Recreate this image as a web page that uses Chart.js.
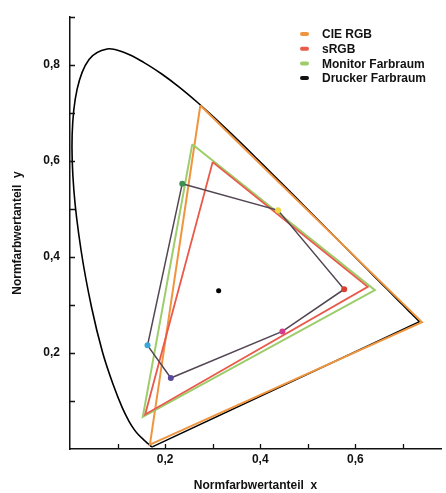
<!DOCTYPE html>
<html>
<head>
<meta charset="utf-8">
<script src="https://cdn.jsdelivr.net/npm/chart.js@4/dist/chart.umd.min.js"></script>
<style>
  html, body { margin: 0; padding: 0; background: #fff; }
  #wrap { width: 446px; height: 493px; }
</style>
</head>
<body>
<div id="wrap"><canvas id="cie"></canvas></div>
<script>
// Spektralfarbenzug (CIE 1931, 2°)
const locusX = [0.1741, 0.1733, 0.1714, 0.1689, 0.1644, 0.1566, 0.1440, 0.1355, 0.1241, 0.1096, 0.0913, 0.0687,
    0.0454, 0.0235, 0.0082, 0.0045, 0.0150, 0.0400, 0.0780, 0.1142, 0.1547, 0.1929, 0.2296, 0.2658, 0.3016,
    0.3373, 0.3731, 0.4087, 0.4441, 0.4788, 0.5125, 0.5448, 0.5752, 0.6029, 0.6270, 0.6482, 0.6658, 0.6915,
    0.7079, 0.7190, 0.7260, 0.7300, 0.7334, 0.7347];
const locusY = [0.0050, 0.0048, 0.0051, 0.0069, 0.0109, 0.0177, 0.0297, 0.0399, 0.0578, 0.0868, 0.1327, 0.2007,
    0.2950, 0.4127, 0.5384, 0.6548, 0.7502, 0.8120, 0.8338, 0.8262, 0.8059, 0.7816, 0.7543, 0.7243, 0.6923,
    0.6589, 0.6245, 0.5896, 0.5547, 0.5202, 0.4866, 0.4544, 0.4242, 0.3965, 0.3725, 0.3514, 0.3340, 0.3083,
    0.2920, 0.2809, 0.2740, 0.2700, 0.2666, 0.2653];

// Farbräume (Eckpunkte, geschlossen)
const cieRgbX = [0.274, 0.740, 0.168, 0.274];
const cieRgbY = [0.716, 0.2645, 0.009, 0.716];
const srgbX = [0.300, 0.626, 0.158, 0.300];
const srgbY = [0.598, 0.338, 0.072, 0.598];
const monitorX = [0.257, 0.641, 0.153, 0.257];
const monitorY = [0.635, 0.331, 0.067, 0.635];
const druckerX = [0.236, 0.4375, 0.5765, 0.4465, 0.212, 0.163, 0.236];
const druckerY = [0.553, 0.4975, 0.333, 0.245, 0.148, 0.216, 0.553];
const weissX = [0.3125];
const weissY = [0.330];

const legendLabels = ['CIE RGB', 'sRGB', 'Monitor Farbraum', 'Drucker Farbraum'];
const legendColors = ['#f0953f', '#e95a4b', '#9dcd6b', '#111111'];

const xTicks = [0.1, 0.2, 0.3, 0.4, 0.5, 0.6, 0.7];
const xTickLabels = ['', '0,2', '', '0,4', '', '0,6', ''];
const yTicks = [0.1, 0.2, 0.3, 0.4, 0.5, 0.6, 0.7, 0.8, 0.9];
const yTickLabels = ['', '0,2', '', '0,4', '', '0,6', '', '0,8', ''];

const FONT = '"Liberation Sans", Arial, sans-serif';

const pts = (xs, ys) => xs.map((x, i) => ({ x: x, y: ys[i] }));

// Ticks point inwards in the original
const innerTicks = {
    id: 'innerTicks',
    afterDraw(chart) {
        const { ctx, scales: { x, y } } = chart;
        ctx.save();
        ctx.strokeStyle = '#111';
        ctx.lineWidth = 1.3;
        ctx.beginPath();
        xTicks.forEach(v => {
            const px = Math.round(x.getPixelForValue(v)) + 0.5;
            ctx.moveTo(px, y.bottom);
            ctx.lineTo(px, y.bottom - 5);
        });
        yTicks.forEach(v => {
            const py = Math.round(y.getPixelForValue(v)) + 0.5;
            ctx.moveTo(x.left, py);
            ctx.lineTo(x.left + 5, py);
        });
        ctx.stroke();
        ctx.restore();
    }
};

const cornerLegend = {
    id: 'cornerLegend',
    afterDraw(chart) {
        const ctx = chart.ctx;
        ctx.save();
        ctx.font = 'bold 12px ' + FONT;
        ctx.textBaseline = 'middle';
        legendLabels.forEach((lab, i) => {
            const yy = 34 + i * 14.7;
            ctx.strokeStyle = legendColors[i];
            ctx.lineWidth = 4;
            ctx.lineCap = 'round';
            ctx.beginPath();
            ctx.moveTo(302, yy);
            ctx.lineTo(307, yy);
            ctx.stroke();
            ctx.fillStyle = '#111';
            ctx.fillText(lab, 322, yy + 1);
        });
        ctx.restore();
    }
};

new Chart(document.getElementById('cie'), {
    type: 'scatter',
    data: {
        datasets: [
            {
                label: 'Weißpunkt',
                data: pts(weissX, weissY),
                backgroundColor: '#000',
                pointRadius: 2.5,
                showLine: false,
                order: 0
            },
            {
                label: 'Drucker Farbraum',
                data: pts(druckerX, druckerY),
                showLine: true,
                borderColor: '#524652',
                borderWidth: 1.5,
                pointRadius: [3, 3, 3, 3, 3, 3, 0],
                pointBackgroundColor: ['#3f8f52', '#f2d640', '#d8402f', '#d23c8e', '#5a48a0', '#38a8d8', '#3f8f52'],
                pointBorderWidth: 0,
                order: 1
            },
            {
                label: 'sRGB',
                data: pts(srgbX, srgbY),
                showLine: true,
                borderColor: '#e95a4b',
                borderWidth: 1.8,
                pointRadius: 0,
                order: 2
            },
            {
                label: 'Monitor Farbraum',
                data: pts(monitorX, monitorY),
                showLine: true,
                borderColor: '#9dcd6b',
                borderWidth: 2,
                pointRadius: 0,
                order: 3
            },
            {
                label: 'CIE RGB',
                data: pts(cieRgbX, cieRgbY),
                showLine: true,
                borderColor: '#f0953f',
                borderWidth: 2,
                pointRadius: 0,
                order: 4
            },
            {
                label: 'Spektralfarbenzug',
                data: pts(locusX, locusY),
                showLine: true,
                borderColor: '#000',
                borderWidth: 1.6,
                tension: 0.35,
                pointRadius: 0,
                order: 5
            },
            {
                label: 'Purpurlinie',
                data: pts([locusX[locusX.length - 1], locusX[0]], [locusY[locusY.length - 1], locusY[0]]),
                showLine: true,
                borderColor: '#000',
                borderWidth: 1.6,
                pointRadius: 0,
                order: 6
            }
        ]
    },
    options: {
        responsive: true,
        maintainAspectRatio: false,
        animation: false,
        layout: { padding: { top: 12.5, right: 2, left: 0, bottom: 0 } },
        plugins: {
            legend: { display: false },
            tooltip: { enabled: false }
        },
        elements: { line: { fill: false } },
        scales: {
            x: {
                min: 0,
                max: 0.78,
                afterFit: s => { s.height = 44; },
                afterBuildTicks: s => { s.ticks = xTicks.map(v => ({ value: v })); },
                grid: { display: true, drawOnChartArea: false, drawTicks: false },
                border: { display: true, color: '#111', width: 1.5 },
                ticks: {
                    autoSkip: false,
                    maxRotation: 0,
                    padding: 3,
                    color: '#111',
                    font: { family: FONT, size: 12, weight: 'bold' },
                    callback: (v, i) => xTickLabels[i]
                },
                title: {
                    display: true,
                    text: 'Normfarbwertanteil  x',
                    color: '#111',
                    padding: { top: 0, bottom: 0 },
                    font: { family: FONT, size: 12, weight: 'bold' }
                }
            },
            y: {
                min: 0,
                max: 0.9,
                afterFit: s => { s.width = 70; },
                afterBuildTicks: s => { s.ticks = yTicks.map(v => ({ value: v })); },
                grid: { display: true, drawOnChartArea: false, drawTicks: false },
                border: { display: true, color: '#111', width: 1.5 },
                ticks: {
                    autoSkip: false,
                    padding: 10,
                    color: '#111',
                    font: { family: FONT, size: 12, weight: 'bold' },
                    callback: (v, i) => yTickLabels[i]
                },
                title: {
                    display: true,
                    text: 'Normfarbwertanteil  y',
                    color: '#111',
                    padding: { top: 10, bottom: 0 },
                    font: { family: FONT, size: 12, weight: 'bold' }
                }
            }
        }
    },
    plugins: [innerTicks, cornerLegend]
});
</script>
</body>
</html>
